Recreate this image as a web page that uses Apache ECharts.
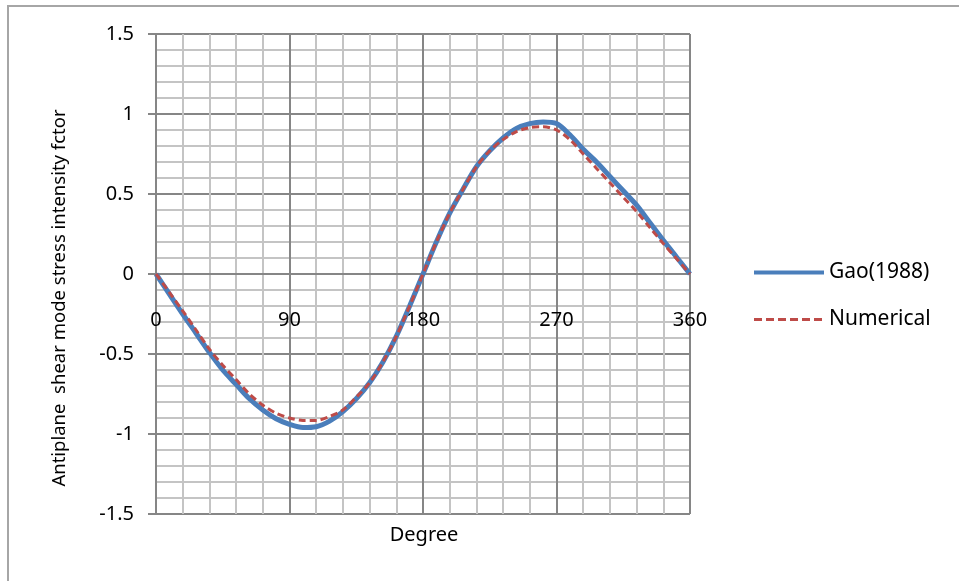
<!DOCTYPE html>
<html>
<head>
<meta charset="utf-8">
<script src="https://cdn.jsdelivr.net/npm/echarts@6/dist/echarts.min.js"></script>
<style>html,body{margin:0;padding:0;background:#fff}#c{width:959px;height:581px}</style>
</head>
<body>
<div id="c"></div>
<script>
const degrees = [0,9,18,27,36,45,54,63,72,81,90,99,108,117,126,135,144,153,162,171,180,189,198,207,216,225,234,243,252,261,270,279,288,297,306,315,324,333,342,351,360];
const gao = [0,-0.125,-0.25,-0.37,-0.49,-0.60,-0.69,-0.78,-0.85,-0.905,-0.94,-0.96,-0.955,-0.92,-0.86,-0.78,-0.68,-0.55,-0.39,-0.20,0,0.20,0.38,0.53,0.67,0.77,0.85,0.91,0.94,0.95,0.94,0.87,0.78,0.70,0.61,0.52,0.43,0.32,0.21,0.105,0];
const numerical = [0,-0.115,-0.23,-0.35,-0.47,-0.57,-0.66,-0.75,-0.82,-0.87,-0.90,-0.915,-0.915,-0.89,-0.85,-0.77,-0.68,-0.55,-0.39,-0.20,0,0.20,0.38,0.53,0.67,0.77,0.84,0.89,0.915,0.92,0.90,0.84,0.75,0.66,0.57,0.48,0.39,0.29,0.19,0.095,0];
const seriesNames = ['Gao(1988)','Numerical'];
const yTitle = 'Antiplane  shear mode stress intensity fctor';
const xTitle = 'Degree';

const font = 'Noto Sans';
const chart = echarts.init(document.getElementById('c'));
const pair = arr => degrees.map((d,i)=>[d,arr[i]]);
chart.setOption({
  animation:false,
  backgroundColor:'#fff',
  grid:{left:156,right:269,top:34,bottom:67,containLabel:false},
  legend:{
    orient:'vertical', left:752, top:262, padding:0, itemWidth:70, itemHeight:14, itemGap:26,
    itemStyle:{opacity:0},
    textStyle:{fontFamily:font,fontSize:21,color:'#000',lineHeight:20},
    data:[
      {name:seriesNames[0],lineStyle:{width:4}},
      {name:seriesNames[1],lineStyle:{width:3,type:[8,4]}}
    ]
  },
  xAxis:{
    type:'value',min:0,max:360,interval:90,offset:-240,
    axisLine:{show:true,onZero:false,lineStyle:{color:'#868686',width:2}},
    axisTick:{show:false},
    axisLabel:{margin:36,fontFamily:font,fontSize:20,color:'#000'},
    splitLine:{show:true,lineStyle:{color:'#868686',width:2}},
    minorTick:{show:false,splitNumber:5},
    minorSplitLine:{show:true,lineStyle:{color:'#c4c4c4',width:2}}
  },
  yAxis:{
    type:'value',min:-1.5,max:1.5,interval:0.5,
    axisLine:{show:true,onZero:false,lineStyle:{color:'#868686',width:2}},
    axisTick:{show:true,length:8,lineStyle:{color:'#868686',width:2}},
    axisLabel:{margin:22,fontFamily:font,fontSize:20,color:'#000'},
    splitLine:{show:true,lineStyle:{color:'#868686',width:2}},
    minorTick:{show:false,splitNumber:5},
    minorSplitLine:{show:true,lineStyle:{color:'#c4c4c4',width:2}}
  },
  series:[
    {name:seriesNames[0],type:'line',data:pair(gao),smooth:0.3,symbol:'none',
     lineStyle:{color:'#4a7ebb',width:5},itemStyle:{color:'#4a7ebb'},z:2},
    {name:seriesNames[1],type:'line',data:pair(numerical),smooth:0.3,symbol:'none',
     lineStyle:{color:'#be4b48',width:3,type:[7,4]},itemStyle:{color:'#be4b48'},z:3}
  ],
  graphic:[
    {type:'rect',shape:{x:8,y:6,width:1000,height:700},style:{fill:'none',stroke:'#a6a6a6',lineWidth:2},silent:true,z:-1},
    {type:'text',x:60,y:298,rotation:Math.PI/2,style:{text:yTitle,fontFamily:font,fontSize:18.5,fill:'#000',align:'center',verticalAlign:'middle'}},
    {type:'text',x:424,y:535,style:{text:xTitle,fontFamily:font,fontSize:20,fill:'#000',align:'center',verticalAlign:'middle'}}
  ]
});
</script>
</body>
</html>
